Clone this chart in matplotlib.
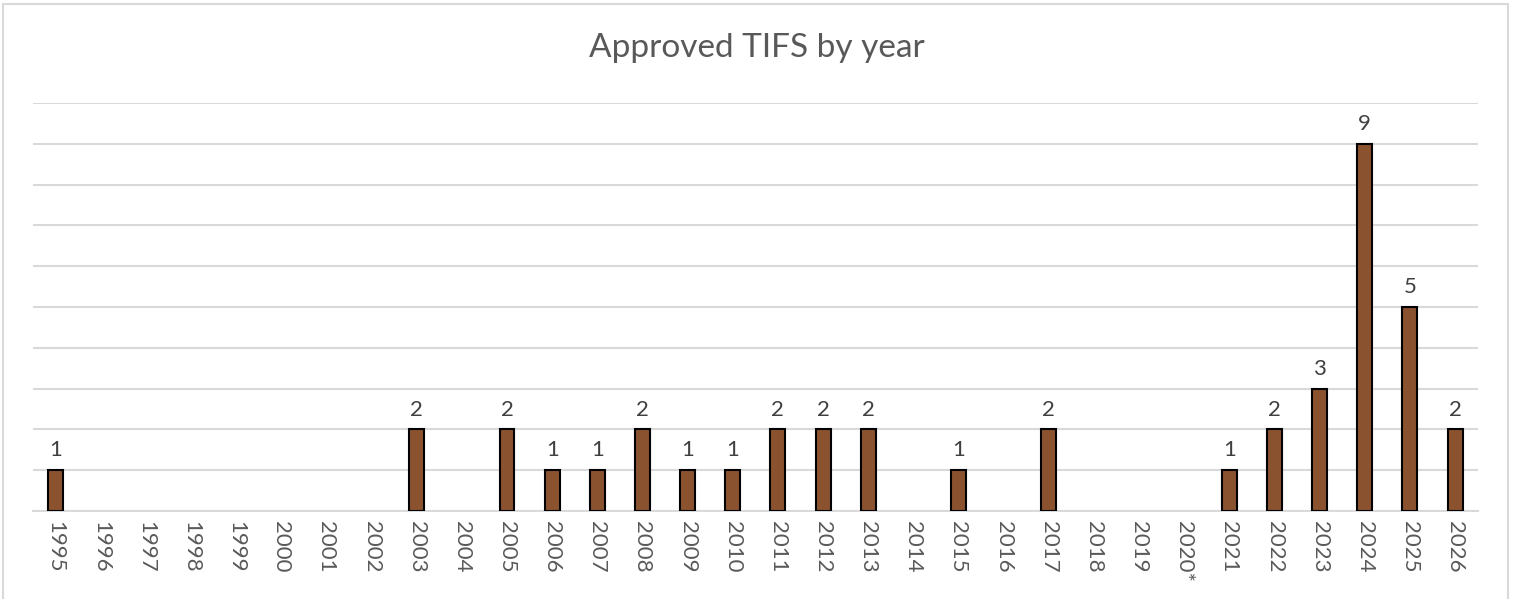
import matplotlib
matplotlib.use('Agg')
from matplotlib import pyplot as plt
from matplotlib.patches import Rectangle

years = ['1995', '1996', '1997', '1998', '1999', '2000', '2001', '2002',
         '2003', '2004', '2005', '2006', '2007', '2008', '2009', '2010',
         '2011', '2012', '2013', '2014', '2015', '2016', '2017', '2018',
         '2019', '2020*', '2021', '2022', '2023', '2024', '2025', '2026']
counts = [1, 0, 0, 0, 0, 0, 0, 0,
          2, 0, 2, 1, 1, 2, 1, 1,
          2, 2, 2, 0, 1, 0, 2, 0,
          0, 0, 1, 2, 3, 9, 5, 2]

plt.rcParams['font.family'] = ['Lato', 'DejaVu Sans']
text_color = '#595959'
grid_color = '#D9D9D9'

fig = plt.figure(figsize=(15.14, 5.99), dpi=100)
ax = fig.add_axes([0.0218, 0.147, 0.9542, 0.681])

x = list(range(len(years)))
# only draw the non-empty years, otherwise the edge shows as a stub on the axis
nz_x = [xi for xi, c in zip(x, counts) if c > 0]
nz_c = [c for c in counts if c > 0]
ax.bar(nz_x, nz_c, width=0.33, color='#8B5230', edgecolor='black',
       linewidth=1.5, zorder=3)

for xi, c in zip(nz_x, nz_c):
    ax.annotate(str(c), (xi, c), xytext=(0, 7), textcoords='offset points',
                ha='center', va='bottom', fontsize=16, color='#404040')

ax.set_xlim(-0.5, len(years) - 0.5)
ax.set_ylim(0, 10)
ax.set_yticks(range(0, 11))
ax.yaxis.grid(True, color=grid_color, linewidth=1.5, zorder=0)
ax.tick_params(axis='y', left=False, labelleft=False)
ax.set_xticks(x)
ax.set_xticklabels(years, rotation=270, fontsize=16, color=text_color)
ax.tick_params(axis='x', length=0, pad=7)
for side in ['left', 'right', 'top']:
    ax.spines[side].set_visible(False)
ax.spines['bottom'].set_color(grid_color)
ax.spines['bottom'].set_linewidth(1.5)

fig.text(0.5, 0.92, 'Approved TIFS by year', ha='center', va='center',
         fontsize=24, color=text_color)

fig.patches.append(Rectangle((0.002, -0.01), 0.994, 1.004, transform=fig.transFigure,
                             fill=False, edgecolor=grid_color, linewidth=1.5))

fig.savefig('out.png', dpi=100)
